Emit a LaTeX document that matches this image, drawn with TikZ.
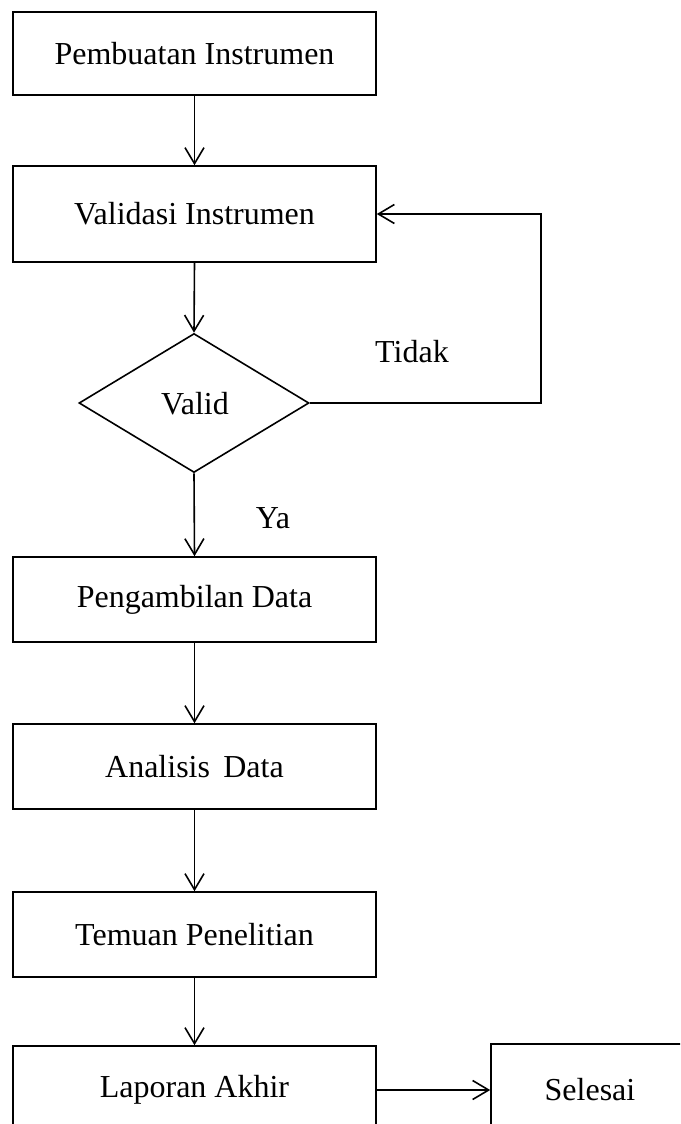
\documentclass[tikz,border=0pt]{standalone}
\usepackage{fontspec}
\setmainfont{Liberation Serif}
\usetikzlibrary{arrows.meta,shapes.geometric}
\begin{document}
\begin{tikzpicture}[x=1pt,y=-1pt,
  every node/.style={font=\fontsize{32}{38}\selectfont},
  box/.style={draw,line width=1.6pt,minimum width=363pt,inner sep=0pt},
  dec/.style={draw,line width=1.6pt,diamond,minimum width=230pt,minimum height=139pt,inner sep=0pt},
  arr/.style={line width=1.6pt,-{Straight Barb[length=16pt,width=19pt,line width=1.6pt]}},
  lbl/.style={inner sep=0pt}]
\clip (0,0) rectangle (680,1124);
\fill[white] (0,0) rectangle (680,1124);
\node[box,minimum height=83pt] (b1) at (194.5,53.5) {Pembuatan Instrumen};
\node[box,minimum height=96pt] (b2) at (194.5,214) {Validasi Instrumen};
\node[dec] (d) at (194,403) {};
\node[lbl] (dv) at (195,404) {Valid};
\node[box,minimum height=85pt] (b3) at (194.5,599.5) {Pengambilan Data};
\node[box,minimum height=85pt] (b4) at (194.5,766.5) {Analisis\, Data};
\node[box,minimum height=85pt] (b5) at (194.5,934.5) {Temuan Penelitian};
\node[box,minimum height=88pt] (b6) at (194.5,1090) {Laporan Akhir};
\node[draw,line width=1.6pt,minimum width=198pt,minimum height=92pt,inner sep=0pt] (s) at (590,1090) {Selesai};
\node[lbl] (tidak) at (412,352) {Tidak};
\node[lbl] (ya) at (273,518) {Ya};
\coordinate (lp) at (541,0);
\draw[arr] (b1.south) -- (b2.north);
\draw[arr] (b2.south) -- (d.north);
\draw[arr] (d.south) -- (b3.north);
\draw[arr] (b3.south) -- (b4.north);
\draw[arr] (b4.south) -- (b5.north);
\draw[arr] (b5.south) -- (b6.north);
\draw[arr] (d.east) -| (lp |- b2.east) -- (b2.east);
\draw[arr] (b6.east) -- (s.west);
\end{tikzpicture}
\end{document}
